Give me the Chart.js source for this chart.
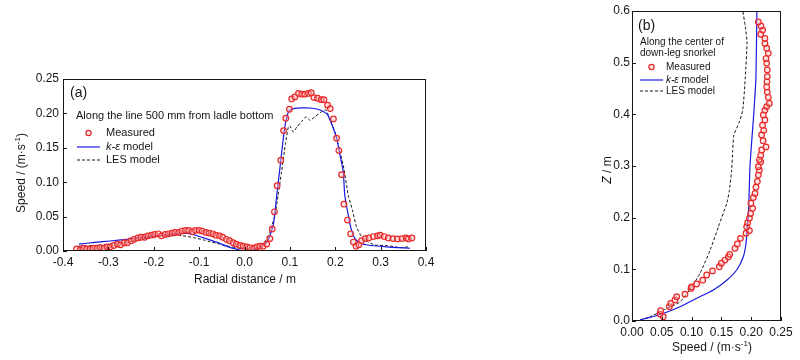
<!DOCTYPE html>
<html lang="en">
<head>
<meta charset="UTF-8">
<title>Speed profiles</title>
<script src="https://cdn.jsdelivr.net/npm/chart.js"></script>
<style>
  body { margin: 0; background: #fff; }
  #wrapA { position: absolute; left: 0; top: 60px; }
  #wrapB { position: absolute; left: 560px; top: 0; }
</style>
</head>
<body>
<div id="wrapA"><canvas id="chartA" width="440" height="232"></canvas></div>
<div id="wrapB"><canvas id="chartB" width="240" height="360"></canvas></div>
<script>
// (a) along the line 500 mm from ladle bottom: radial distance (m) vs speed (m/s)
const aMeasX = [-0.370,-0.362,-0.355,-0.348,-0.340,-0.333,-0.325,-0.318,-0.310,-0.303,-0.296,-0.288,-0.280,-0.273,-0.265,-0.258,-0.250,-0.243,-0.235,-0.228,-0.220,-0.213,-0.205,-0.198,-0.190,-0.183,-0.175,-0.168,-0.160,-0.153,-0.145,-0.138,-0.130,-0.123,-0.115,-0.108,-0.100,-0.093,-0.085,-0.078,-0.070,-0.063,-0.055,-0.048,-0.040,-0.033,-0.025,-0.018,-0.010,-0.003,0.005,0.012,0.020,0.027,0.034,0.041,0.049,0.056,0.061,0.066,0.072,0.080,0.086,0.091,0.099,0.104,0.111,0.119,0.126,0.133,0.141,0.147,0.153,0.161,0.169,0.175,0.183,0.189,0.196,0.203,0.208,0.214,0.219,0.227,0.234,0.240,0.246,0.252,0.258,0.266,0.274,0.284,0.293,0.299,0.308,0.317,0.327,0.337,0.347,0.356,0.361,0.369];
const aMeasY = [0.003,0.002,0.004,0.003,0.003,0.004,0.004,0.005,0.004,0.006,0.006,0.008,0.010,0.009,0.012,0.012,0.015,0.017,0.019,0.020,0.020,0.022,0.023,0.024,0.025,0.022,0.024,0.025,0.026,0.027,0.027,0.029,0.030,0.030,0.028,0.030,0.030,0.029,0.027,0.026,0.025,0.023,0.022,0.020,0.017,0.015,0.012,0.010,0.008,0.007,0.006,0.005,0.004,0.006,0.007,0.007,0.010,0.018,0.032,0.057,0.095,0.132,0.175,0.193,0.206,0.221,0.224,0.229,0.228,0.228,0.229,0.230,0.223,0.222,0.220,0.220,0.212,0.207,0.192,0.164,0.146,0.111,0.068,0.045,0.025,0.013,0.007,0.009,0.015,0.018,0.019,0.021,0.022,0.023,0.021,0.019,0.018,0.0175,0.018,0.019,0.0175,0.019];
const aKeX = [-0.365,-0.330,-0.296,-0.260,-0.230,-0.194,-0.160,-0.140,-0.125,-0.110,-0.099,-0.080,-0.060,-0.040,-0.020,-0.005,0.005,0.015,0.025,0.035,0.045,0.052,0.058,0.0635,0.067,0.071,0.078,0.0856,0.091,0.098,0.1076,0.130,0.150,0.1664,0.1826,0.1944,0.203,0.2105,0.2177,0.221,0.2287,0.2347,0.2436,0.2546,0.271,0.3134,0.3647];
const aKeY = [0.010,0.0125,0.0145,0.017,0.019,0.022,0.0245,0.0255,0.0255,0.0235,0.021,0.017,0.0125,0.007,0.003,0.0005,0.0003,0.001,0.003,0.0055,0.010,0.016,0.026,0.038,0.055,0.081,0.120,0.164,0.188,0.2035,0.207,0.208,0.2075,0.205,0.1986,0.1807,0.164,0.1395,0.115,0.081,0.052,0.033,0.018,0.012,0.0087,0.006,0.004];
const aLesX = [-0.365,-0.330,-0.296,-0.260,-0.230,-0.194,-0.170,-0.140,-0.113,-0.090,-0.076,-0.060,-0.040,-0.020,-0.003,0.010,0.020,0.030,0.045,0.056,0.067,0.074,0.0816,0.090,0.0966,0.100,0.1076,0.115,0.1256,0.1355,0.1443,0.155,0.170,0.1796,0.187,0.1995,0.2105,0.219,0.2287,0.2376,0.247,0.258,0.269,0.2876,0.313,0.3427,0.361];
const aLesY = [0.007,0.008,0.010,0.013,0.017,0.021,0.022,0.0225,0.0195,0.016,0.0136,0.011,0.0077,0.005,0.004,0.004,0.0075,0.006,0.0135,0.028,0.052,0.081,0.115,0.155,0.180,0.182,0.173,0.180,0.188,0.195,0.190,0.195,0.2025,0.205,0.193,0.173,0.144,0.120,0.081,0.060,0.035,0.021,0.0145,0.0087,0.008,0.005,0.006];
const aXTicks = [-0.4, 0.4, 0.1];
const aYTicks = [0, 0.25, 0.05];

// (b) along the center of the down-leg snorkel: speed (m/s) vs Z (m)
const bMeasS = [0.0525,0.047,0.048,0.0626,0.065,0.0721,0.075,0.0889,0.099,0.100,0.1085,0.1186,0.1253,0.135,0.1465,0.150,0.156,0.1616,0.164,0.1728,0.1767,0.182,0.1913,0.197,0.1924,0.194,0.197,0.199,0.2025,0.1995,0.2036,0.2064,0.208,0.2103,0.212,0.2137,0.212,0.216,0.2137,0.216,0.2176,0.2248,0.220,0.2175,0.221,0.219,0.223,0.2203,0.223,0.226,0.2304,0.2287,0.227,0.226,0.2265,0.227,0.227,0.226,0.2248,0.2287,0.226,0.223,0.223,0.216,0.2192,0.2164,0.212];
const bMeasZ = [0.0083,0.0135,0.020,0.0277,0.034,0.0406,0.047,0.052,0.063,0.066,0.0716,0.079,0.089,0.097,0.105,0.112,0.118,0.124,0.129,0.1407,0.149,0.160,0.170,0.175,0.1825,0.190,0.199,0.208,0.218,0.228,0.239,0.247,0.259,0.270,0.2825,0.292,0.2987,0.308,0.312,0.321,0.331,0.337,0.349,0.360,0.369,0.379,0.389,0.3987,0.408,0.415,0.421,0.433,0.443,0.453,0.463,0.473,0.486,0.499,0.508,0.518,0.528,0.537,0.547,0.555,0.563,0.571,0.5787];
const bKeS = [0.0134,0.030,0.0498,0.0805,0.1085,0.1365,0.159,0.1756,0.1868,0.1913,0.1935,0.1957,0.198,0.2047,0.208,0.2095];
const bKeZ = [0.002,0.007,0.0135,0.0277,0.044,0.060,0.079,0.0987,0.1244,0.150,0.1825,0.215,0.300,0.408,0.473,0.600];
const bLesS = [0.0134,0.030,0.0525,0.0805,0.100,0.114,0.131,0.145,0.159,0.163,0.167,0.169,0.171,0.180,0.186,0.190,0.193,0.190,0.186];
const bLesZ = [0.002,0.008,0.021,0.037,0.066,0.092,0.137,0.1825,0.228,0.250,0.290,0.330,0.360,0.385,0.410,0.470,0.540,0.570,0.600];
const bXTicks = [0, 0.25, 0.05];
const bYTicks = [0, 0.6, 0.1];

const FONT = "'Liberation Sans', Arial, sans-serif";
const INK = '#161616';
const RED = 'rgb(232,40,40)';
const BLUE = 'rgb(25,25,225)';

function pts(xs, ys) { return xs.map((x, i) => ({ x: x, y: ys[i] })); }

function rich(ctx, parts, x, y, align) {
  let w = 0;
  parts.forEach(p => { ctx.font = p.font; w += ctx.measureText(p.t).width; });
  let cx = align === 'center' ? x - w / 2 : x;
  parts.forEach(p => {
    ctx.font = p.font;
    ctx.fillText(p.t, cx, y + (p.dy || 0));
    cx += ctx.measureText(p.t).width;
  });
}

function frameAndTicks(chart) {
  const ctx = chart.ctx, a = chart.chartArea, sx = chart.scales.x, sy = chart.scales.y;
  ctx.save();
  ctx.strokeStyle = INK;
  ctx.lineWidth = 1;
  ctx.strokeRect(Math.round(a.left) + 0.5, Math.round(a.top) + 0.5,
    Math.round(a.right - a.left) - 1, Math.round(a.bottom - a.top) - 1);
  ctx.beginPath();
  sx.ticks.forEach(t => {
    const px = Math.round(sx.getPixelForValue(t.value)) + 0.5;
    ctx.moveTo(px, a.bottom); ctx.lineTo(px, a.bottom - 4);
  });
  sy.ticks.forEach(t => {
    const py = Math.round(sy.getPixelForValue(t.value)) + 0.5;
    ctx.moveTo(a.left, py); ctx.lineTo(a.left + 4, py);
  });
  ctx.stroke();
  ctx.restore();
}

function legendRows(ctx, lx0, lx1, tx, yMeas, yKe, yLes, size) {
  const f = size + 'px ' + FONT;
  ctx.fillStyle = 'rgba(255,190,190,0.4)';
  ctx.strokeStyle = RED;
  ctx.lineWidth = 1.2;
  ctx.beginPath();
  ctx.arc((lx0 + lx1) / 2, yMeas, 2.6, 0, Math.PI * 2);
  ctx.fill(); ctx.stroke();
  ctx.strokeStyle = BLUE;
  ctx.lineWidth = 1.2;
  ctx.beginPath(); ctx.moveTo(lx0, yKe); ctx.lineTo(lx1, yKe); ctx.stroke();
  ctx.strokeStyle = INK;
  ctx.lineWidth = 1;
  ctx.setLineDash([3, 2]);
  ctx.beginPath(); ctx.moveTo(lx0, yLes); ctx.lineTo(lx1, yLes); ctx.stroke();
  ctx.setLineDash([]);
  ctx.fillStyle = INK;
  ctx.fillText('Measured', tx, yMeas);
  rich(ctx, [{ t: 'k-\u03b5', font: 'italic ' + f }, { t: ' model', font: f }], tx, yKe);
  ctx.font = f;
  ctx.fillText('LES model', tx, yLes);
}

const decorA = {
  id: 'decorA',
  afterDraw(chart) {
    frameAndTicks(chart);
    const ctx = chart.ctx;
    ctx.save();
    ctx.textBaseline = 'middle';
    ctx.fillStyle = INK;
    ctx.font = '14px ' + FONT;
    ctx.fillText('(a)', 70, 33);
    ctx.font = '11px ' + FONT;
    ctx.fillText('Along the line 500 mm from ladle bottom', 76, 56);
    legendRows(ctx, 77, 100, 106, 73, 87, 100, 11);
    ctx.fillStyle = INK;
    rich(ctx, [{ t: 'Radial distance / m', font: '12px ' + FONT }], 245, 220, 'center');
    ctx.translate(22, 113);
    ctx.rotate(-Math.PI / 2);
    rich(ctx, [
      { t: 'Speed / (m\u00b7s', font: '12px ' + FONT },
      { t: '-1', font: '8px ' + FONT, dy: -4 },
      { t: ')', font: '12px ' + FONT }
    ], 0, 0, 'center');
    ctx.restore();
  }
};

const decorB = {
  id: 'decorB',
  afterDraw(chart) {
    frameAndTicks(chart);
    const ctx = chart.ctx;
    ctx.save();
    ctx.textBaseline = 'middle';
    ctx.fillStyle = INK;
    ctx.font = '14px ' + FONT;
    ctx.fillText('(b)', 78, 26);
    ctx.font = '10px ' + FONT;
    ctx.fillText('Along the center of', 80, 42);
    ctx.fillText('down-leg snorkel', 80, 53);
    legendRows(ctx, 80, 103, 106, 67, 80, 91, 10);
    ctx.fillStyle = INK;
    rich(ctx, [
      { t: 'Speed / (m\u00b7s', font: '12px ' + FONT },
      { t: '-1', font: '8px ' + FONT, dy: -4 },
      { t: ')', font: '12px ' + FONT }
    ], 152, 348, 'center');
    ctx.translate(48, 170);
    ctx.rotate(-Math.PI / 2);
    rich(ctx, [
      { t: 'Z', font: 'italic 12px ' + FONT },
      { t: ' / m', font: '12px ' + FONT }
    ], 0, 0, 'center');
    ctx.restore();
  }
};

function axis(range, digits, fit, key, pad) {
  return {
    type: 'linear',
    min: range[0],
    max: range[1],
    grid: { display: false, drawTicks: false },
    border: { display: false },
    ticks: {
      stepSize: range[2],
      autoSkip: false,
      maxRotation: 0,
      padding: pad,
      color: INK,
      font: { family: FONT, size: 12 },
      callback: v => (Math.abs(v) < 1e-9 ? 0 : v).toFixed(digits)
    },
    afterFit: s => { s[key] = fit; }
  };
}

function datasets(mx, my, kx, ky, lx, ly) {
  return [
    { label: 'Measured', data: pts(mx, my), showLine: false, pointRadius: 2.8,
      pointBorderWidth: 1.2, pointBorderColor: RED, pointBackgroundColor: 'rgba(255,190,190,0.4)' },
    { label: 'k-\u03b5 model', data: pts(kx, ky), showLine: true, pointRadius: 0,
      borderColor: BLUE, borderWidth: 1.2, tension: 0.2 },
    { label: 'LES model', data: pts(lx, ly), showLine: true, pointRadius: 0,
      borderColor: INK, borderWidth: 1, borderDash: [3, 2], tension: 0.2 }
  ];
}

function baseOptions(pad, xs, ys) {
  return {
    responsive: false,
    animation: false,
    events: [],
    layout: { padding: pad },
    plugins: { legend: { display: false }, tooltip: { enabled: false } },
    scales: { x: xs, y: ys }
  };
}

new Chart(document.getElementById('chartA'), {
  type: 'scatter',
  data: { datasets: datasets(aMeasX, aMeasY, aKeX, aKeY, aLesX, aLesY) },
  options: baseOptions({ top: 19, right: 14, left: 0, bottom: 0 },
    axis(aXTicks, 1, 41, 'height', 4), axis(aYTicks, 2, 63, 'width', 4)),
  plugins: [decorA]
});

new Chart(document.getElementById('chartB'), {
  type: 'scatter',
  data: { datasets: datasets(bMeasS, bMeasZ, bKeS, bKeZ, bLesS, bLesZ) },
  options: baseOptions({ top: 11, right: 19, left: 0, bottom: 0 },
    axis(bXTicks, 2, 39, 'height', 4), axis(bYTicks, 1, 72, 'width', 2)),
  plugins: [decorB]
});
</script>
</body>
</html>
